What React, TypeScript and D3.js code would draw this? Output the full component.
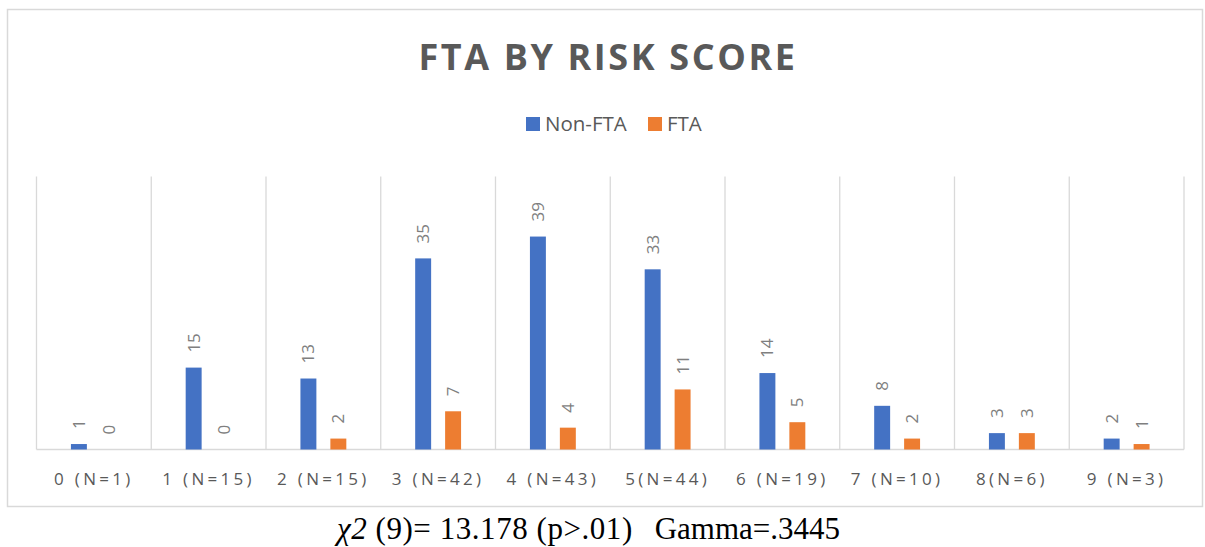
import React from "react";
import * as d3 from "d3";

const categories = [
  "0 (N=1)",
  "1 (N=15)",
  "2 (N=15)",
  "3 (N=42)",
  "4 (N=43)",
  "5(N=44)",
  "6 (N=19)",
  "7 (N=10)",
  "8(N=6)",
  "9 (N=3)"
];
const nonFta = [1, 15, 13, 35, 39, 33, 14, 8, 3, 2];
const fta = [0, 0, 2, 7, 4, 11, 5, 2, 3, 1];
const seriesNames = ["Non-FTA", "FTA"];
const seriesColors = ["#4472C4", "#ED7D31"];
const seriesValues = [nonFta, fta];

const W = 1205;
const H = 547;
const FONT = "'Open Sans', 'DejaVu Sans', sans-serif";
const SERIF = "'Liberation Serif', 'Times New Roman', serif";
const GRID = "#d9d9d9";

export default function App() {
  const left = 36.5;
  const right = 1184;
  const top = 176.5;
  const bottom = 449.5;

  const x = d3.scaleBand<string>().domain(categories).range([left, right]).padding(0);
  const inner = d3
    .scaleBand<string>()
    .domain(seriesNames)
    .range([0, x.bandwidth()])
    .paddingInner(0.467)
    .paddingOuter(1.15);
  const y = d3.scaleLinear().domain([0, 50]).range([bottom, top]);

  const gridXs = categories.map((c) => x(c) as number).concat([right]);

  return (
    <svg
      width={W}
      height={H}
      style={{ position: "absolute", left: 0, top: 0, background: "#fff" }}
    >
      <rect x={7.5} y={9.5} width={1195} height={497} fill="#fff" stroke={GRID} strokeWidth={1.5} />

      <text
        x={608}
        y={70}
        textAnchor="middle"
        fontFamily={FONT}
        fontWeight={700}
        fontSize={36}
        letterSpacing={2.6}
        fill="#595959"
      >
        FTA BY RISK SCORE
      </text>

      {/* legend */}
      <g fontFamily={FONT} fontSize={20.5} fill="#595959">
        <rect x={526} y={117} width={14} height={14} fill={seriesColors[0]} />
        <text x={545} y={131}>{seriesNames[0]}</text>
        <rect x={648} y={117} width={14} height={14} fill={seriesColors[1]} />
        <text x={667} y={131}>{seriesNames[1]}</text>
      </g>

      {/* gridlines */}
      <g stroke={GRID} strokeWidth={1.3}>
        {gridXs.map((gx, i) => (
          <line key={i} x1={gx} x2={gx} y1={top} y2={bottom} />
        ))}
        <line x1={left} x2={right} y1={bottom} y2={bottom} strokeWidth={1.5} />
      </g>

      {/* bars */}
      {seriesValues.map((vals, si) => (
        <g key={si} fill={seriesColors[si]}>
          {vals.map((v, i) => {
            const bx = (x(categories[i]) as number) + (inner(seriesNames[si]) as number);
            return (
              <rect
                key={i}
                x={bx}
                y={y(v)}
                width={inner.bandwidth()}
                height={bottom - y(v)}
              />
            );
          })}
        </g>
      ))}

      {/* data labels */}
      <g fontFamily={FONT} fontSize={17} fill="#7f7f7f">
        {seriesValues.map((vals, si) =>
          vals.map((v, i) => {
            const cx =
              (x(categories[i]) as number) +
              (inner(seriesNames[si]) as number) +
              inner.bandwidth() / 2 +
              6;
            const ty = y(v) - 15;
            return (
              <text key={`${si}-${i}`} transform={`translate(${cx},${ty}) rotate(-90)`}>
                {v}
              </text>
            );
          })
        )}
      </g>

      {/* category labels */}
      <g fontFamily={FONT} fontSize={17} fill="#595959" letterSpacing={3.3}>
        {categories.map((c) => (
          <text key={c} x={(x(c) as number) + x.bandwidth() / 2} y={485} textAnchor="middle">
            {c}
          </text>
        ))}
      </g>

      {/* statistics caption below the chart */}
      <g fontFamily={SERIF} fontSize={31} fill="#000">
        <text x={337} y={539} style={{ whiteSpace: "pre" }} letterSpacing={0.55}>
          <tspan fontStyle="italic">χ2</tspan>
          {" (9)= 13.178 (p>.01)"}
        </text>
        <text x={840} y={539} textAnchor="end">
          Gamma=.3445
        </text>
      </g>
    </svg>
  );
}
